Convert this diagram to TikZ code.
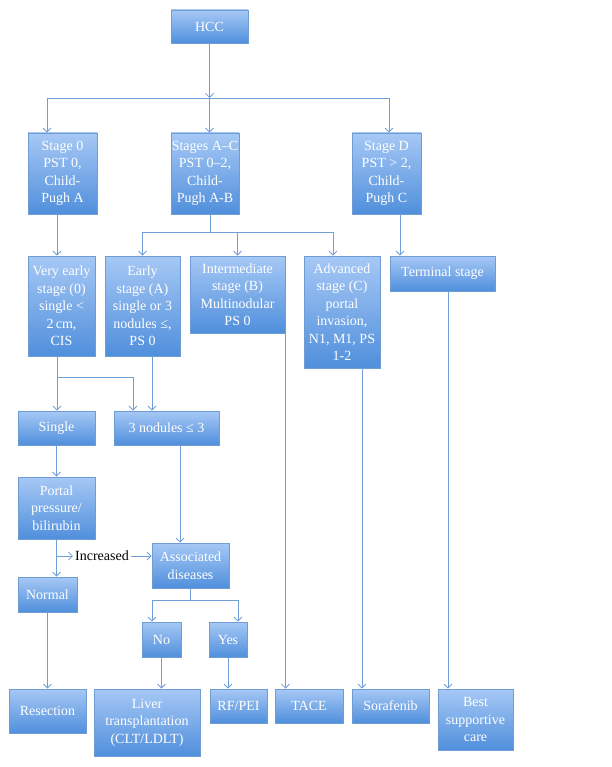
\documentclass[tikz,border=0pt]{standalone}
\usepackage{fontspec}
\setmainfont{Liberation Serif}
\definecolor{boxtop}{RGB}{166, 200, 245}
\definecolor{boxbot}{RGB}{80, 143, 220}
\definecolor{boxedge}{RGB}{112, 156, 212}
\definecolor{linkblue}{RGB}{112, 158, 214}
\usetikzlibrary{arrows.meta, positioning}

\begin{document}
\begin{tikzpicture}[x=1pt, y=-1pt,
  stagebox/.style={draw=boxedge, line width=0.8pt, top color=boxtop, bottom color=boxbot,
    text=white, align=center, inner sep=0pt, font=\fontsize{14}{17.5}\selectfont},
  link/.style={draw=linkblue, line width=0.8pt},
  arr/.style={link, -{Straight Barb[length=4pt, width=8pt]}}]
  \useasboundingbox (0, 0) rectangle (611, 767);

  % Root
  \node[stagebox, minimum width=77, minimum height=33] (hcc) at (209.5, 26.5) {HCC};

  % BCLC stages
  \node[stagebox, minimum width=69, minimum height=81] (stage0) at (62.5, 173.5) {Stage 0\\PST 0,\\Child-\\Pugh A};
  \node[stagebox, minimum width=68, minimum height=81] (stageAC) at (205, 173.5) {Stages A--C\\PST 0--2,\\Child-\\Pugh A-B};
  \node[stagebox, minimum width=69, minimum height=81] (stageD) at (386.5, 173.5) {Stage D\\PST > 2,\\Child-\\Pugh C};

  % Stage descriptions
  \node[stagebox, minimum width=67, minimum height=100] (veryearly) at (61.5, 306) {Very early\\stage (0)\\single <\\2\,cm,\\CIS};
  \node[stagebox, minimum width=75, minimum height=100] (early) at (142.5, 306) {Early\\stage (A)\\single or 3\\nodules ≤,\\PS 0};
  \node[stagebox, minimum width=95, minimum height=77] (intermediate) at (237.5, 294.5) {Intermediate\\stage (B)\\Multinodular\\PS 0};
  \node[stagebox, minimum width=76, minimum height=112] (advanced) at (342, 312) {Advanced\\stage (C)\\portal\\invasion,\\N1, M1, PS\\1-2};
  \node[stagebox, minimum width=105, minimum height=35] (terminal) at (442.5, 273.5) {Terminal stage};

  % Early decisions
  \node[stagebox, minimum width=77, minimum height=34] (single) at (56.5, 428) {Single};
  \node[stagebox, minimum width=105, minimum height=34] (nodules) at (166.5, 428) {3 nodules ≤ 3};
  \node[stagebox, minimum width=77, minimum height=62] (portal) at (56.5, 508) {Portal\\pressure/\\bilirubin};
  \node[stagebox, minimum width=59, minimum height=35] (normal) at (47.5, 594.5) {Normal};
  \node[stagebox, minimum width=77, minimum height=45] (assoc) at (190.5, 565.5) {Associated\\diseases};
  \node[font=\fontsize{14}{17.5}\selectfont, inner sep=2pt] (incr) at (102, 556) {Increased};
  \node[stagebox, minimum width=39, minimum height=35] (no) at (161.5, 639.5) {No};
  \node[stagebox, minimum width=38, minimum height=35] (yes) at (228, 639.5) {Yes};

  % Treatments
  \node[stagebox, minimum width=77, minimum height=44] (resection) at (47.5, 711) {Resection};
  \node[stagebox, minimum width=106, minimum height=67] (liver) at (147, 722.5) {Liver\\transplantation\\(CLT/LDLT)};
  \node[stagebox, minimum width=57, minimum height=34] (rfpei) at (238.5, 706) {RF/PEI};
  \node[stagebox, minimum width=68, minimum height=34] (tace) at (309, 706) {TACE};
  \node[stagebox, minimum width=77, minimum height=34] (sorafenib) at (390.5, 706) {Sorafenib};
  \node[stagebox, minimum width=75, minimum height=61] (best) at (475.5, 719.5) {Best\\supportive\\care};

  % Junctions
  \coordinate (j1) at (209.5, 98);
  \coordinate (j2) at (210, 232);
  \coordinate (j3) at (57, 377);
  \coordinate (j4) at (57, 556);
  \coordinate (j5) at (190.5, 600);

  % Connectors
  \draw[arr] (hcc.south) -- (j1);
  \draw[arr] (j1) -| ([xshift=-15.5pt]stage0.north);
  \draw[arr] (j1) -- (j1 |- stageAC.north);
  \draw[arr] (j1) -| ([xshift=2.5pt]stageD.north);

  \draw[arr] ([xshift=-5.5pt]stage0.south) -- ([xshift=-5.5pt]stage0.south |- veryearly.north);
  \draw[link] ([xshift=5pt]stageAC.south) -- (j2);
  \draw[arr] (j2) -| (early.north);
  \draw[arr] (j2) -| (intermediate.north);
  \draw[arr] (j2) -| ([xshift=-9pt]advanced.north);
  \draw[arr] ([xshift=13.5pt]stageD.south) -- ([xshift=13.5pt]stageD.south |- terminal.north);

  \draw[arr] ([xshift=-4.5pt]veryearly.south) -- ([xshift=-4.5pt]veryearly.south |- single.north);
  \draw[arr] (j3) -| ([xshift=-33.5pt]nodules.north);
  \draw[arr] ([xshift=9.5pt]early.south) -- ([xshift=9.5pt]early.south |- nodules.north);

  \draw[arr] (single.south) -- (portal.north);
  \draw[arr] (portal.south) -- (portal.south |- normal.north);
  \draw[arr] (j4) -- (incr.west);
  \draw[arr] (incr.east) -- (incr.east -| assoc.west);
  \draw[arr] ([xshift=13.5pt]nodules.south) -- ([xshift=13.5pt]nodules.south |- assoc.north);

  \draw[link] (assoc.south) -- (j5);
  \draw[arr] (j5) -| ([xshift=-9.5pt]no.north);
  \draw[arr] (j5) -| ([xshift=10pt]yes.north);

  \draw[arr] (normal.south) -- (normal.south |- resection.north);
  \draw[arr] (no.south) -- (no.south |- liver.north);
  \draw[arr] (yes.south) -- (yes.south |- rfpei.north);
  \draw[arr] (intermediate.south east) -- (intermediate.south east |- tace.north);
  \draw[arr] ([xshift=20pt]advanced.south) -- ([xshift=20pt]advanced.south |- sorafenib.north);
  \draw[arr] ([xshift=5.5pt]terminal.south) -- ([xshift=5.5pt]terminal.south |- best.north);
\end{tikzpicture}
\end{document}
